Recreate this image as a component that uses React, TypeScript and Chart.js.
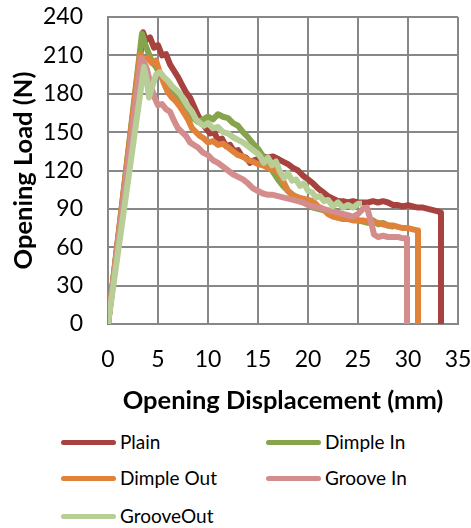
import { useEffect, useRef } from 'react';
import { Chart, registerables } from 'chart.js';

Chart.register(...registerables);

const FONT = 'Lato, "Open Sans", sans-serif';

// Opening load (N) against opening displacement (mm), one list of [x, y] per specimen type
const plain: [number, number][] = [
  [0, 0], [3.5, 228], [3.8, 222], [4.2, 224], [4.6, 216], [5.0, 218], [5.4, 210], [5.8, 211],
  [6.2, 203], [6.6, 198], [7.0, 193], [7.4, 187], [7.8, 181], [8.2, 177], [8.6, 170], [9.0, 163],
  [9.4, 157], [9.8, 153], [10.2, 149], [10.6, 150], [11.0, 144], [11.4, 145], [11.8, 139], [12.2, 140],
  [12.6, 135], [13.0, 136], [13.4, 131], [13.8, 130], [14.2, 126], [14.6, 128], [15.0, 129], [15.5, 131],
  [16.0, 130], [16.5, 131], [17.0, 129], [17.5, 127], [18.0, 125], [18.5, 122], [19.0, 120], [19.5, 116],
  [20.0, 113], [20.5, 110], [21.0, 106], [21.5, 103], [22.0, 100], [22.5, 98], [23.0, 96], [23.5, 96],
  [24.0, 95], [24.5, 96], [25.0, 95], [25.5, 95], [26.0, 95], [26.5, 96], [27.0, 95], [27.5, 96],
  [28.0, 95], [28.5, 93], [29.0, 93], [29.5, 92], [30.0, 93], [30.5, 92], [31.0, 91], [31.5, 91],
  [32.0, 90], [32.5, 89], [33.0, 88], [33.3, 87], [33.3, 0],
];

const dimpleIn: [number, number][] = [
  [0, 0], [3.4, 227], [3.7, 219], [4.0, 213], [4.4, 205], [4.8, 201], [5.2, 195], [5.6, 191],
  [6.0, 187], [6.5, 182], [7.0, 178], [7.5, 172], [8.0, 168], [8.5, 161], [9.0, 158], [9.5, 160],
  [10.0, 162], [10.5, 160], [11.0, 164], [11.5, 162], [12.0, 161], [12.5, 157], [13.0, 155], [13.5, 150],
  [14.0, 146], [14.5, 141], [15.0, 137], [15.5, 131], [16.0, 125], [16.5, 119], [17.0, 113], [17.5, 108],
  [18.0, 104], [18.5, 101], [19.0, 99], [19.5, 97], [20.0, 94], [20.5, 91], [21.0, 90], [21.5, 89],
  [22.0, 88], [22.5, 87], [23.0, 86], [23.5, 85], [24.0, 84], [24.5, 82], [25.0, 81], [25.5, 80],
  [26.0, 79], [26.5, 81], [27.0, 78], [27.5, 79], [28.0, 77], [28.6, 76],
];

const dimpleOut: [number, number][] = [
  [0, 0], [3.2, 211], [3.6, 206], [4.0, 208], [4.4, 204], [4.8, 206], [5.2, 196], [5.6, 188],
  [6.0, 181], [6.4, 177], [6.8, 174], [7.2, 170], [7.6, 165], [8.0, 160], [8.4, 153], [8.8, 150],
  [9.2, 147], [9.6, 145], [10.0, 142], [10.5, 143], [11.0, 140], [11.5, 141], [12.0, 138], [12.5, 135],
  [13.0, 132], [13.5, 131], [14.0, 128], [14.5, 127], [15.0, 125], [15.5, 124], [16.0, 122], [16.5, 121],
  [17.0, 119], [17.5, 112], [18.0, 104], [18.5, 100], [19.0, 99], [19.5, 98], [20.0, 97], [20.5, 96],
  [21.0, 92], [21.5, 90], [22.0, 86], [22.5, 84], [23.0, 83], [23.5, 82], [24.0, 82], [24.5, 81],
  [25.0, 81], [25.5, 81], [26.0, 80], [26.5, 80], [27.0, 79], [27.5, 78], [28.0, 77], [28.5, 77],
  [29.0, 76], [29.5, 75], [30.0, 75], [30.5, 74], [31.0, 73], [31.0, 0],
];

const grooveIn: [number, number][] = [
  [0, 0], [3.3, 208], [3.6, 205], [3.9, 199], [4.2, 189], [4.6, 178], [5.0, 171], [5.4, 172],
  [5.8, 168], [6.2, 166], [6.6, 159], [7.0, 153], [7.4, 150], [7.8, 147], [8.2, 142], [8.6, 140],
  [9.0, 138], [9.5, 134], [10.0, 132], [10.5, 128], [11.0, 126], [11.5, 123], [12.0, 120], [12.5, 117],
  [13.0, 115], [13.5, 113], [14.0, 110], [14.5, 106], [15.0, 104], [15.5, 102], [16.0, 101], [16.5, 101],
  [17.0, 100], [17.5, 99], [18.0, 98], [18.5, 97], [19.0, 96], [19.5, 95], [20.0, 93], [20.5, 92],
  [21.0, 91], [21.5, 90], [22.0, 89], [22.5, 88], [23.0, 87], [23.5, 86], [24.0, 85], [24.5, 84],
  [25.0, 86], [25.5, 90], [25.9, 91], [26.3, 80], [26.6, 70], [27.0, 68], [27.5, 69], [28.0, 68],
  [28.5, 68], [29.0, 68], [29.5, 67], [29.9, 67], [29.9, 0],
];

const grooveOut: [number, number][] = [
  [0, 0], [3.6, 201], [3.9, 190], [4.1, 177], [4.4, 185], [4.8, 195], [5.2, 197], [5.6, 193],
  [6.0, 190], [6.4, 186], [6.8, 183], [7.2, 180], [7.6, 175], [8.0, 170], [8.4, 166], [8.8, 160],
  [9.2, 157], [9.6, 155], [10.0, 157], [10.5, 153], [11.0, 154], [11.5, 150], [12.0, 149], [12.5, 146],
  [13.0, 144], [13.5, 142], [14.0, 139], [14.5, 136], [15.0, 133], [15.2, 131], [15.6, 126], [16.0, 130],
  [16.4, 124], [16.8, 127], [17.2, 119], [17.6, 114], [18.0, 118], [18.4, 112], [18.8, 113], [19.2, 108],
  [19.6, 110], [20.0, 104], [20.4, 103], [20.8, 99], [21.2, 100], [21.6, 96], [22.0, 97], [22.5, 92],
  [23.0, 95], [23.5, 91], [24.0, 93], [24.5, 91], [25.0, 94], [25.4, 94],
];

const seriesNames = ['Plain', 'Dimple In', 'Dimple Out', 'Groove In', 'GrooveOut'];
const seriesColors = ['#A7423F', '#86A44B', '#E0823A', '#D38D8C', '#B7CF96'];
const seriesData = [plain, dimpleIn, dimpleOut, grooveIn, grooveOut];

const xTicks = { min: 0, max: 35, step: 5 };
const yTicks = { min: 0, max: 240, step: 30 };

const GRID = '#878787';

export default function App() {
  const canvasRef = useRef<HTMLCanvasElement>(null);

  useEffect(() => {
    document.body.style.margin = '0';
    const canvas = canvasRef.current;
    if (!canvas) return;

    const chart = new Chart(canvas, {
      type: 'line',
      data: {
        datasets: seriesData.map((pts, i) => ({
          label: seriesNames[i],
          data: pts.map(([x, y]) => ({ x, y })),
          borderColor: seriesColors[i],
          backgroundColor: seriesColors[i],
          borderWidth: 6,
          pointRadius: 0,
          tension: 0,
          borderJoinStyle: 'round' as const,
          // later series are drawn over earlier ones
          order: seriesData.length - i,
        })),
      },
      options: {
        responsive: false,
        animation: false,
        layout: { padding: { left: 0, right: 13, top: 17, bottom: 0 } },
        plugins: {
          legend: { display: false },
          tooltip: { enabled: false },
        },
        scales: {
          x: {
            type: 'linear',
            min: xTicks.min,
            max: xTicks.max,
            ticks: {
              stepSize: xTicks.step,
              color: '#000',
              font: { family: FONT, size: 23 },
              padding: 22,
            },
            grid: { color: GRID, lineWidth: 2, drawTicks: false },
            border: { color: GRID, width: 2 },
            title: {
              display: true,
              text: 'Opening Displacement (mm)',
              color: '#000',
              font: { family: FONT, size: 25.5, weight: 'bold' },
              padding: { top: 0, bottom: 4 },
            },
            afterFit: (scale: any) => {
              scale.height = 96;
              scale.paddingLeft = 0;
              scale.paddingRight = 0;
            },
          },
          y: {
            type: 'linear',
            min: yTicks.min,
            max: yTicks.max,
            ticks: {
              stepSize: yTicks.step,
              color: '#000',
              font: { family: FONT, size: 23 },
              padding: 25,
            },
            grid: { color: GRID, lineWidth: 2, drawTicks: false },
            border: { color: GRID, width: 2 },
            title: {
              display: true,
              text: 'Opening Load (N)',
              color: '#000',
              font: { family: FONT, size: 25.5, weight: 'bold' },
              padding: { top: 8, bottom: 0 },
            },
            afterFit: (scale: any) => {
              scale.width = 108;
              scale.paddingTop = 0;
              scale.paddingBottom = 0;
            },
          },
        },
      },
    });

    return () => chart.destroy();
  }, []);

  const legendCols = [61, 266];
  const legendRows = [442, 478, 516];

  return (
    <div style={{ position: 'relative', width: 471, height: 528, background: '#fff' }}>
      <canvas ref={canvasRef} width={471} height={420} style={{ position: 'absolute', left: 0, top: 0 }} />
      {seriesNames.map((name, i) => {
        const left = legendCols[i % 2];
        const cy = legendRows[Math.floor(i / 2)];
        return (
          <div key={name}>
            <div
              style={{
                position: 'absolute',
                left,
                top: cy - 2.5,
                width: 55,
                height: 5,
                borderRadius: 3,
                background: seriesColors[i],
              }}
            />
            <div
              style={{
                position: 'absolute',
                left: left + 59,
                top: cy - 12,
                height: 24,
                lineHeight: '24px',
                fontFamily: FONT,
                fontSize: 19,
                color: '#000',
                whiteSpace: 'nowrap',
              }}
            >
              {name}
            </div>
          </div>
        );
      })}
    </div>
  );
}
